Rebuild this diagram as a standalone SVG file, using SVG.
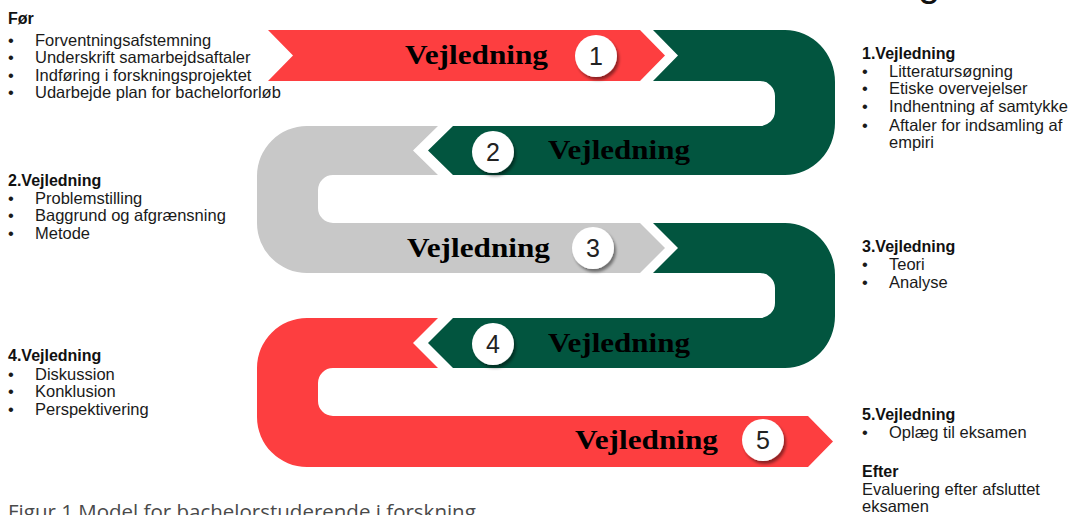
<svg xmlns="http://www.w3.org/2000/svg" width="1072" height="515" viewBox="0 0 1072 515">
<style>
.red{fill:#FD3E40}
.green{fill:#02553F}
.gray{fill:#C8C8C8}
.lbl{font-family:"Liberation Serif","Times New Roman",serif;font-weight:bold;font-size:28px;fill:#000}
.num{font-family:"Liberation Sans",Arial,sans-serif;font-size:25px;fill:#222;text-anchor:middle}
.disc{fill:#fff;filter:url(#sh)}
.t{font-family:"Liberation Sans",Arial,sans-serif;font-size:16.5px;fill:#1a1a1a}
.h{font-family:"Liberation Sans",Arial,sans-serif;font-size:16px;font-weight:bold;fill:#111}
.cap{font-family:"Open Sans","Liberation Sans",sans-serif;font-size:20.5px;fill:#4a4a4a}
</style>
<defs>
<filter id="sh" x="-30%" y="-30%" width="170%" height="170%">
<feDropShadow dx="2" dy="3" stdDeviation="1.8" flood-color="#000" flood-opacity="0.45"/>
</filter>
</defs>
<rect width="1072" height="515" fill="#fff"/>
<text x="918" y="-4" style="font-family:'Liberation Sans',Arial,sans-serif;font-size:40px;fill:#111">g</text>

<g id="band1">
<path class="red" d="M268,30 L640,30 L665,55.5 L640,81 L268,81 L293,55.5 Z"/>
<text class="lbl" x="405" y="64" textLength="143" lengthAdjust="spacingAndGlyphs">Vejledning</text>
<circle class="disc" cx="596" cy="56" r="21"/>
<text class="num" x="596" y="65">1</text>
</g>

<g id="band2">
<path class="green" d="M653,30 L785,30 A50,52 0 0 1 835,82 L835,123 A50,52 0 0 1 785,175 L453,175 L428,150.5 L453,126 L760,126 A15,15 0 0 0 775,111 L775,96 A15,15 0 0 0 760,81 L653,81 L678,55.5 Z"/>
<text class="lbl" x="548" y="159" textLength="142" lengthAdjust="spacingAndGlyphs">Vejledning</text>
<circle class="disc" cx="493" cy="152" r="21"/>
<text class="num" x="493" y="161">2</text>
</g>

<g id="band3">
<path class="gray" d="M438,126 L307,126 A50,50 0 0 0 257,176 L257,223 A50,50 0 0 0 307,273 L640,273 L665,248 L640,223 L333,223 A15,15 0 0 1 318,208 L318,190 A15,15 0 0 1 333,175 L438,175 L413,150.5 Z"/>
<text class="lbl" x="407" y="257" textLength="143" lengthAdjust="spacingAndGlyphs">Vejledning</text>
<circle class="disc" cx="593" cy="248" r="21"/>
<text class="num" x="593" y="257">3</text>
</g>

<g id="band4">
<path class="green" d="M653,223 L785,223 A50,52 0 0 1 835,275 L835,316 A50,52 0 0 1 785,368 L453,368 L428,343 L453,318 L760,318 A15,15 0 0 0 775,303 L775,288 A15,15 0 0 0 760,273 L653,273 L678,248 Z"/>
<text class="lbl" x="548" y="352" textLength="142" lengthAdjust="spacingAndGlyphs">Vejledning</text>
<circle class="disc" cx="493" cy="344" r="21"/>
<text class="num" x="493" y="353">4</text>
</g>

<g id="band5">
<path class="red" d="M438,318 L307,318 A50,50 0 0 0 257,368 L257,417 A50,50 0 0 0 307,467 L808,467 L833,441.5 L808,416 L333,416 A15,15 0 0 1 318,401 L318,383 A15,15 0 0 1 333,368 L438,368 L413,343 Z"/>
<text class="lbl" x="575" y="449" textLength="143" lengthAdjust="spacingAndGlyphs">Vejledning</text>
<circle class="disc" cx="763" cy="440" r="21"/>
<text class="num" x="763" y="449">5</text>
</g>

<g id="connectors"></g>

<g id="note-for">
<text class="h" x="8" y="24">Før</text>
<text class="t" x="8" y="46">•</text><text class="t" x="35" y="46">Forventningsafstemning</text>
<text class="t" x="8" y="63">•</text><text class="t" x="35" y="63">Underskrift samarbejdsaftaler</text>
<text class="t" x="8" y="81">•</text><text class="t" x="35" y="81">Indføring i forskningsprojektet</text>
<text class="t" x="8" y="98">•</text><text class="t" x="35" y="98">Udarbejde plan for bachelorforløb</text>
</g>

<g id="note-1">
<text class="h" x="862" y="59">1.Vejledning</text>
<text class="t" x="862" y="77">•</text><text class="t" x="889" y="77">Litteratursøgning</text>
<text class="t" x="862" y="94">•</text><text class="t" x="889" y="94">Etiske overvejelser</text>
<text class="t" x="862" y="112">•</text><text class="t" x="889" y="112">Indhentning af samtykke</text>
<text class="t" x="862" y="131">•</text><text class="t" x="889" y="131">Aftaler for indsamling af</text>
<text class="t" x="889" y="148">empiri</text>
</g>

<g id="note-2">
<text class="h" x="8" y="186">2.Vejledning</text>
<text class="t" x="8" y="204">•</text><text class="t" x="35" y="204">Problemstilling</text>
<text class="t" x="8" y="221">•</text><text class="t" x="35" y="221">Baggrund og afgrænsning</text>
<text class="t" x="8" y="239">•</text><text class="t" x="35" y="239">Metode</text>
</g>

<g id="note-3">
<text class="h" x="862" y="252">3.Vejledning</text>
<text class="t" x="862" y="270">•</text><text class="t" x="889" y="270">Teori</text>
<text class="t" x="862" y="288">•</text><text class="t" x="889" y="288">Analyse</text>
</g>

<g id="note-4">
<text class="h" x="8" y="361">4.Vejledning</text>
<text class="t" x="8" y="380">•</text><text class="t" x="35" y="380">Diskussion</text>
<text class="t" x="8" y="397">•</text><text class="t" x="35" y="397">Konklusion</text>
<text class="t" x="8" y="415">•</text><text class="t" x="35" y="415">Perspektivering</text>
</g>

<g id="note-5">
<text class="h" x="862" y="420">5.Vejledning</text>
<text class="t" x="862" y="438">•</text><text class="t" x="889" y="438">Oplæg til eksamen</text>
</g>

<g id="note-efter">
<text class="h" x="862" y="477">Efter</text>
<text class="t" x="862" y="495">Evaluering efter afsluttet</text>
<text class="t" x="862" y="512">eksamen</text>
</g>

<text class="cap" x="8" y="519">Figur 1 Model for bachelorstuderende i forskning</text>
</svg>
